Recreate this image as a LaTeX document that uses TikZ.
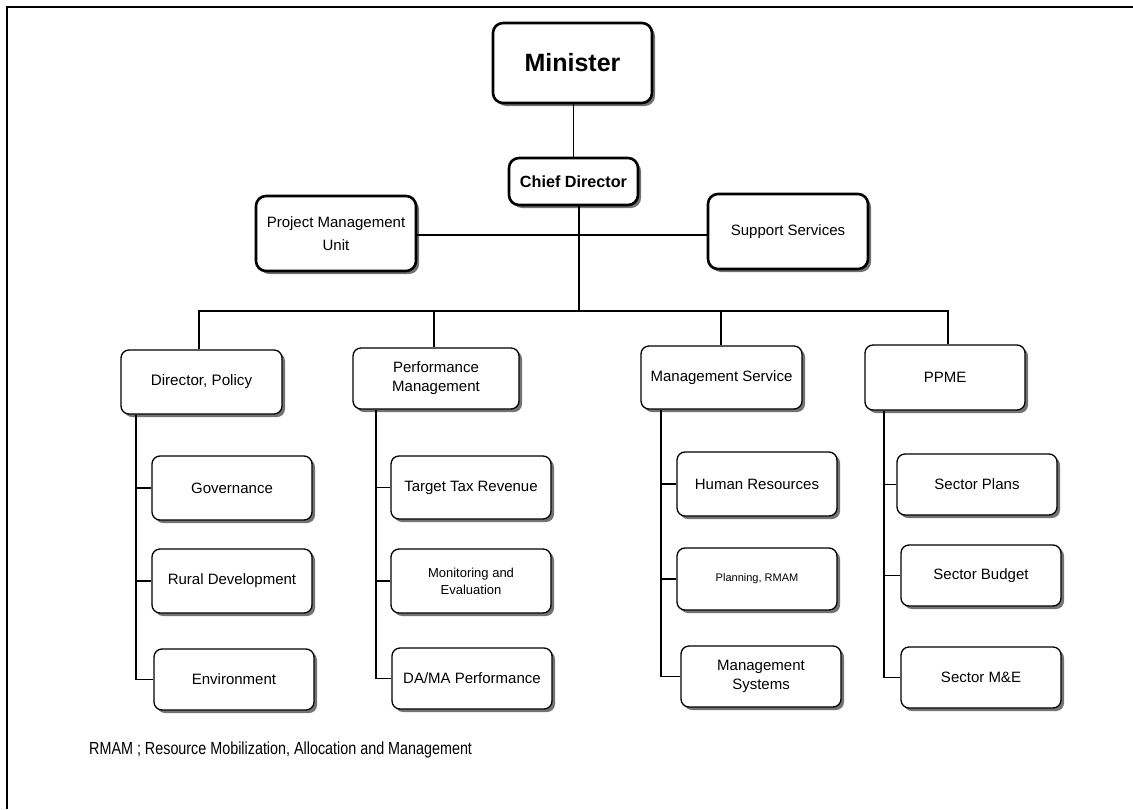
\documentclass[tikz,border=0pt]{standalone}
\usepackage{fontspec}
\usepackage{graphicx}
\setmainfont{Liberation Sans}
\usetikzlibrary{shadows}
\begin{document}
\begin{tikzpicture}[x=1pt,y=-1pt,
  box/.style={draw, line width=1.3pt, rounded corners=8pt, fill=white, align=center, inner sep=2pt,
    drop shadow={shadow xshift=3pt, shadow yshift=-3pt, fill=black!55, opacity=1},
    font=\fontsize{15}{18}\selectfont, minimum width=160pt, minimum height=63pt},
  mainbox/.style={box, line width=2.6pt, rounded corners=10pt},
  link/.style={line width=1.3pt}]
\useasboundingbox (0,0) rectangle (1133,809);

% page frame (top and left edges)
\draw[line width=1.3pt] (7,809) -- (7,7) -- (1133,7);

% top level
\node[mainbox, minimum width=159pt, minimum height=80pt, font=\fontsize{25}{29}\selectfont\bfseries] (min) at (572.5,63) {Minister};
\node[mainbox, minimum width=129pt, minimum height=47pt, font=\fontsize{16.2}{19}\selectfont\bfseries] (cd) at (573.5,181.5) {Chief Director};
\node[mainbox, minimum height=75pt, font=\fontsize{15}{23}\selectfont] (pmu) at (336,233.5) {Project Management\\Unit};
\node[mainbox, minimum height=75pt] (ss) at (788,231.5) {Support Services};

% divisions
\node[box, minimum width=161pt, minimum height=64pt, font=\fontsize{15.2}{18}\selectfont] (dp) at (201.5,382) {Director, Policy};
\node[box, minimum width=166pt, minimum height=61pt, font=\fontsize{15}{19}\selectfont] (pm) at (436,378.5) {Performance\\Management};
\node[box, minimum width=161pt] (ms) at (721.5,377.5) {Management Service};
\node[box, minimum height=65pt] (ppme) at (945,377.5) {PPME};

% units under Director, Policy
\node[box, minimum height=64pt] (gov) at (232,488) {Governance};
\node[box, minimum height=64pt] (rd) at (232,581) {Rural Development};
\node[box, minimum height=61pt] (env) at (234,679.5) {Environment};

% units under Performance Management
\node[box] (ttr) at (471,487.5) {Target Tax Revenue};
\node[box, minimum height=64pt, font=\fontsize{13}{17}\selectfont] (mone) at (471,581) {Monitoring and\\Evaluation};
\node[box, minimum height=61pt] (dama) at (472,678.5) {DA/MA Performance};

% units under Management Service
\node[box, minimum height=64pt] (hr) at (757,484) {Human Resources};
\node[box, minimum height=62pt, font=\fontsize{11}{13}\selectfont] (plan) at (757,579) {Planning, RMAM};
\node[box, minimum height=61pt, font=\fontsize{15}{18.5}\selectfont] (msys) at (761,676.5) {Management\\Systems};

% units under PPME
\node[box, minimum height=61pt] (sp) at (977,484.5) {Sector Plans};
\node[box, minimum height=61pt] (sb) at (981,575.5) {Sector Budget};
\node[box, minimum height=61pt] (sme) at (981,677.5) {Sector M\&E};

% connectors
\draw[link] (min.south) -- (cd.south |- min.south) -- (cd.north);
\coordinate (trunk) at (579,311);
\draw[link] (cd.south -| trunk) -- (trunk);
\draw[link] (pmu.east |- 0,235) -- (ss.west |- 0,235);

\coordinate (d1) at (199,311);
\coordinate (d2) at (434,311);
\coordinate (d3) at (721,311);
\coordinate (d4) at (948,311);
\draw[link] (d1 |- dp.north) -- (d1) -- (d4) -- (d4 |- ppme.north);
\draw[link] (d2) -- (d2 |- pm.north);
\draw[link] (d3) -- (d3 |- ms.north);

\coordinate (v1) at (136,679.5);
\coordinate (v2) at (376,678.5);
\coordinate (v3) at (661,676.5);
\coordinate (v4) at (884,677.5);
\draw[link] (v1 |- dp.south) -- (v1) -- (env.west);
\draw[link] (v1 |- gov.west) -- (gov.west);
\draw[link] (v1 |- rd.west) -- (rd.west);
\draw[link] (v2 |- pm.south) -- (v2) -- (dama.west);
\draw[link] (v2 |- ttr.west) -- (ttr.west);
\draw[link] (v2 |- mone.west) -- (mone.west);
\draw[link] (v3 |- ms.south) -- (v3) -- (msys.west);
\draw[link] (v3 |- hr.west) -- (hr.west);
\draw[link] (v3 |- plan.west) -- (plan.west);
\draw[link] (v4 |- ppme.south) -- (v4) -- (sme.west);
\draw[link] (v4 |- sp.west) -- (sp.west);
\draw[link] (v4 |- sb.west) -- (sb.west);

% footnote
\node[anchor=west, inner sep=0pt, font=\fontsize{17.5}{20}\selectfont] (note) at (89,750)
  {\scalebox{0.82}[1]{RMAM ; Resource Mobilization, Allocation and Management}};
\end{tikzpicture}
\end{document}
